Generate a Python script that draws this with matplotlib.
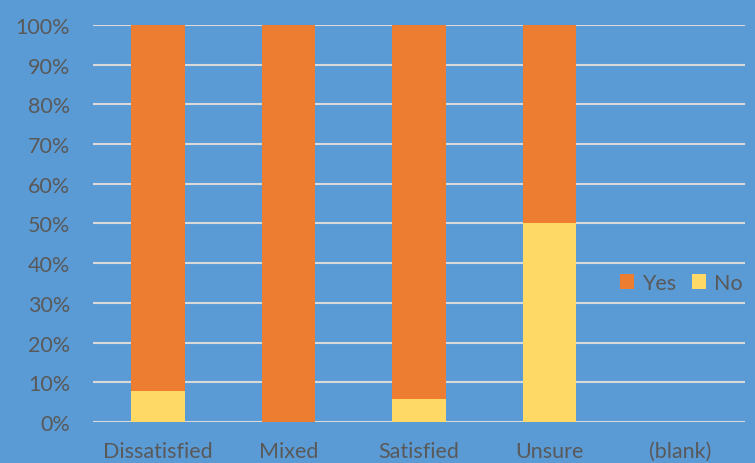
import matplotlib
matplotlib.use("Agg")
import matplotlib.pyplot as plt
import numpy as np
from matplotlib.ticker import PercentFormatter

categories = ["Dissatisfied", "Mixed", "Satisfied", "Unsure", "(blank)"]
no_share = [7.7, 0.0, 5.9, 50.0, 0.0]
yes_share = [92.3, 100.0, 94.1, 50.0, 0.0]

bg = "#5B9BD5"
orange = "#ED7D31"
yellow = "#FFD966"
text_grey = "#595959"
grid_grey = "#D9D9D9"

plt.rcParams["font.family"] = ["Lato", "DejaVu Sans"]

fig = plt.figure(figsize=(7.55, 4.64), dpi=100, facecolor=bg)
ax = fig.add_axes([0.123, 0.0884, 0.864, 0.8556], facecolor=bg)

x = np.arange(len(categories))
w = 0.41
ax.bar(x, no_share, width=w, color=yellow, label="No", zorder=3)
ax.bar(x, yes_share, width=w, bottom=no_share, color=orange, label="Yes", zorder=3)

ax.set_xlim(-0.5, len(categories) - 0.5)
ax.set_ylim(0, 100)
ax.set_yticks(np.arange(0, 101, 10))
ax.yaxis.set_major_formatter(PercentFormatter(decimals=0))
ax.set_xticks(x)
ax.set_xticklabels(categories)

ax.grid(axis="y", color=grid_grey, linewidth=1.5, zorder=0)
ax.set_axisbelow(True)
for s in ax.spines.values():
    s.set_visible(False)
ax.tick_params(axis="both", length=0, colors=text_grey, labelsize=15.5)
ax.tick_params(axis="y", pad=16.5)
ax.tick_params(axis="x", pad=13.5)

handles, labels = ax.get_legend_handles_labels()
leg = ax.legend(handles[::-1], labels[::-1], loc="center left",
                bbox_to_anchor=(0.779, 0.35), ncol=2, frameon=False,
                fontsize=15.5, handlelength=0.65, handleheight=0.65,
                handletextpad=0.35, columnspacing=0.75, labelcolor=text_grey)

fig.savefig("out.png", dpi=100, facecolor=bg)
